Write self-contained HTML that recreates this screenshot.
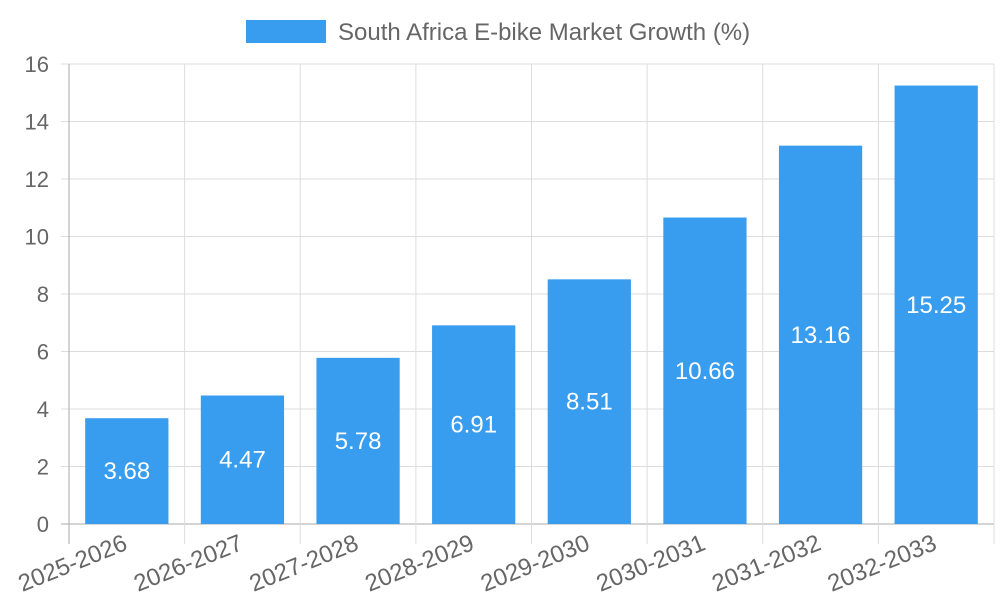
<!DOCTYPE html>
<html><head><meta charset="utf-8"><style>
body{margin:0;background:#fff}
svg{display:block;font-family:"Liberation Sans",sans-serif}
</style></head><body>
<svg id="c" width="1000" height="600">
<rect x="246" y="20" width="80" height="23" fill="#389cef"/>
<text x="338" y="40" font-size="24" fill="#666">South Africa E-bike Market Growth (%)</text>
</svg>
<script>
const categories=["2025-2026","2026-2027","2027-2028","2028-2029","2029-2030","2030-2031","2031-2032","2032-2033"];
const values=[3.68,4.47,5.78,6.91,8.51,10.66,13.16,15.25];
const yTicks=[0,2,4,6,8,10,12,14,16];
const NS="http://www.w3.org/2000/svg";
const svg=document.getElementById('c');
const L=69,R=994,T=64,B=524,yMax=16;
const bw=(R-L)/categories.length;
const y=v=>B-(v/yMax)*(B-T);
const x=i=>L+i*bw;
function mk(tag,a,p){const e=document.createElementNS(NS,tag);for(const k in a)e.setAttribute(k,a[k]);(p||svg).appendChild(e);return e;}
const grid=mk('g',{});


yTicks.forEach(t=>{
  const l=mk('line',{x1:L-8,x2:R,y1:y(t),y2:y(t),stroke:t===0?'#aaa':'#ddd','stroke-width':1},grid);
  
  
  const tx=mk('text',{x:L-20,y:y(t)+8,'text-anchor':'end','font-size':22,fill:'#666'});
  tx.textContent=t;
  
  
});
for(let i=0;i<=categories.length;i++){
  const l=mk('line',{x1:x(i),x2:x(i),y1:T,y2:B+20,stroke:i===0?'#aaa':'#ddd','stroke-width':1},grid);
  
  
}
categories.forEach((c,i)=>{
  const cx=x(i)+bw/2, w=bw*0.72;
  const r=mk('rect',{x:cx-w/2,y:y(values[i]),width:w,height:B-y(values[i]),fill:'#389cef'});
  
  
  const v=mk('text',{x:cx,y:(y(values[i])+B)/2+8,'text-anchor':'middle','font-size':24,fill:'#fff'});
  v.textContent=values[i].toFixed(2);
  
  
  const t=mk('text',{x:0,y:0,'text-anchor':'end','font-size':24,fill:'#666',transform:`translate(${cx+2},${B+25}) rotate(-22)`});
  t.textContent=c;
  
  
});
</script>
</body></html>
